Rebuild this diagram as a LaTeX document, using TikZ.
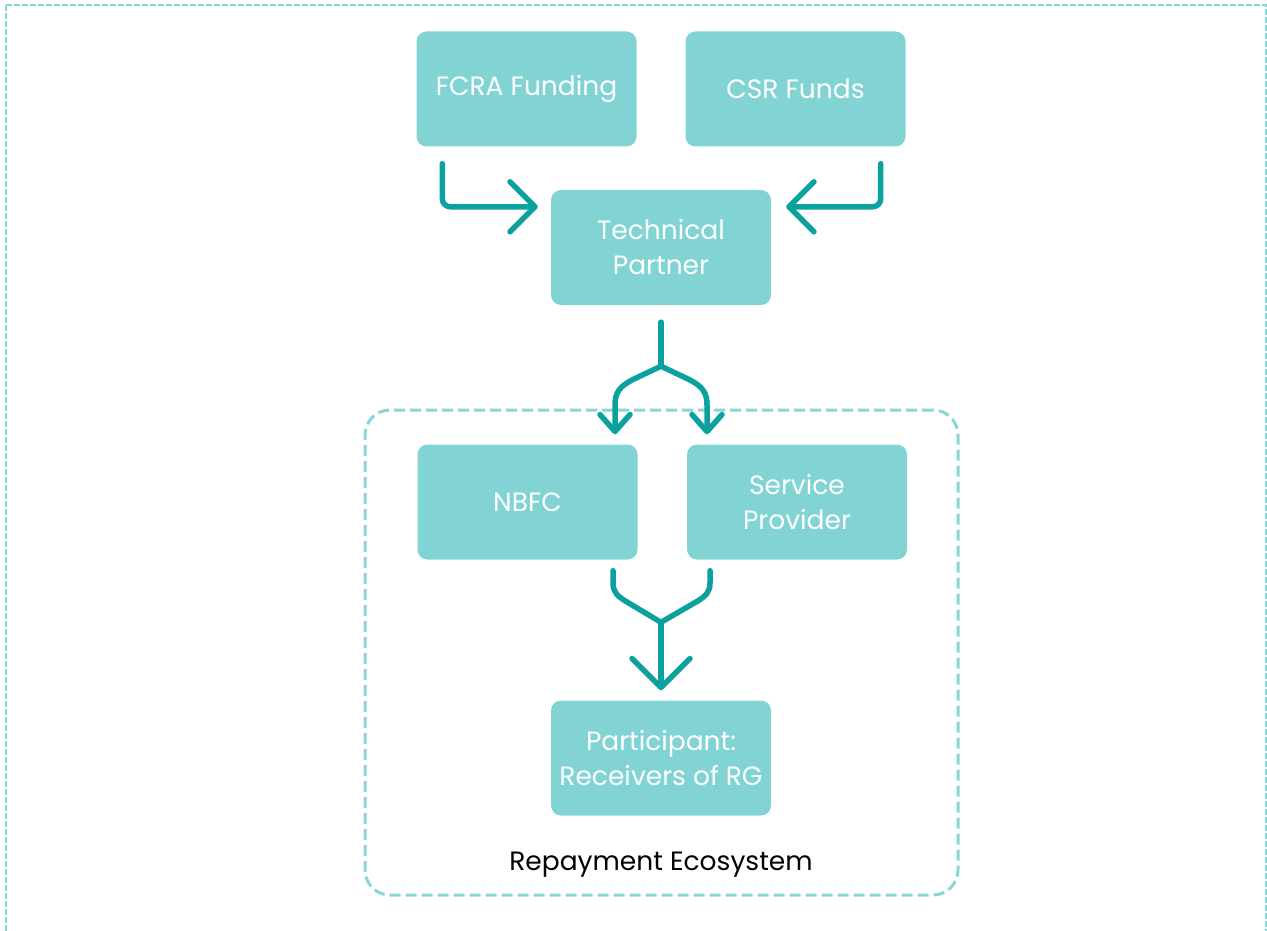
\documentclass[tikz,border=0pt]{standalone}
\usepackage{fontspec}
\setmainfont{Poppins}
\usetikzlibrary{arrows.meta,calc}
\definecolor{boxfill}{HTML}{81D4D3}
\definecolor{flowc}{HTML}{0AA19F}
\definecolor{dashc}{HTML}{86D7D6}
\begin{document}
\begin{tikzpicture}[x=1pt,y=-1pt,
  box/.style={fill=boxfill, rounded corners=10pt, minimum width=220pt, minimum height=115pt,
    text=white, font=\fontsize{26.5}{35}\selectfont, align=center, inner sep=0pt},
  eco/.style={draw=dashc, line width=3pt, dash pattern=on 11pt off 5pt, rounded corners=25pt,
    minimum width=593pt, minimum height=485pt, inner sep=0pt},
  outer/.style={draw=dashc, line width=2pt, dash pattern=on 6pt off 2pt},
  flow/.style={draw=flowc, line width=5.5pt, line cap=round, line join=round},
  tipA/.style={-{Straight Barb[length=25pt, width=50pt, round]}},
  tipB/.style={-{Straight Barb[length=17pt, width=30pt, round]}},
  tipC/.style={-{Straight Barb[length=29pt, width=58pt, round]}},
  lbl/.style={font=\fontsize{26.5}{30}\selectfont, text=black}
]
\useasboundingbox (0,0) rectangle (1267,931);
\begin{scope}
\clip (0,0) rectangle (1267,931);
\draw[outer] (6,5) rectangle (1266,980);
\end{scope}

\node[eco] (eco) at (661.5,652.5) {};
\node[lbl] (ecolabel) at (661,865) {Repayment Ecosystem};

\node[box] (fcra) at (526.5,89) {\raisebox{-2pt}{FCRA Funding}};
\node[box] (csr) at (795.5,89) {CSR Funds};
\node[box] (tech) at (661,247.5) {Technical\\Partner};
\node[box] (nbfc) at (527.5,502) {NBFC};
\node[box] (sp) at (797,502) {Service\\Provider};
\node[box] (part) at (661,758) {Participant:\\Receivers of RG};

% inputs to technical partner
\draw[flow, tipA, rounded corners=8pt] ($(fcra.south west)+(26,17)$) |- ($(tech.north west)+(-13,17)$);
\draw[flow, tipA, rounded corners=8pt] ($(csr.south east)+(-25,17)$) |- ($(tech.north east)+(15,17)$);

% split to NBFC and service provider
\coordinate (split) at ($(tech.south)+(0,61)$);
\draw[flow] ($(tech.south)+(0,17)$) -- (split);
\draw[flow, tipB] (split) -- (634,379) .. controls (620,386) and (615,392) .. (615,405) -- ($(nbfc.north)+(87.5,-10)$);
\draw[flow, tipB] (split) -- (688,379) .. controls (702,386) and (707,392) .. (707,405) -- ($(sp.north)+(-90,-10)$);

% merge into participant
\coordinate (merge) at ($(part.north)+(0,-78)$);
\draw[flow] ($(nbfc.south)+(85.5,11)$) -- (613,583) .. controls (613,592) and (617,596) .. (627,602) -- (merge);
\draw[flow] ($(sp.south)+(-87,11)$) -- (710,583) .. controls (710,592) and (706,596) .. (696,602) -- (merge);
\draw[flow, tipC] (merge) -- ($(part.north)+(0,-10)$);
\end{tikzpicture}
\end{document}
